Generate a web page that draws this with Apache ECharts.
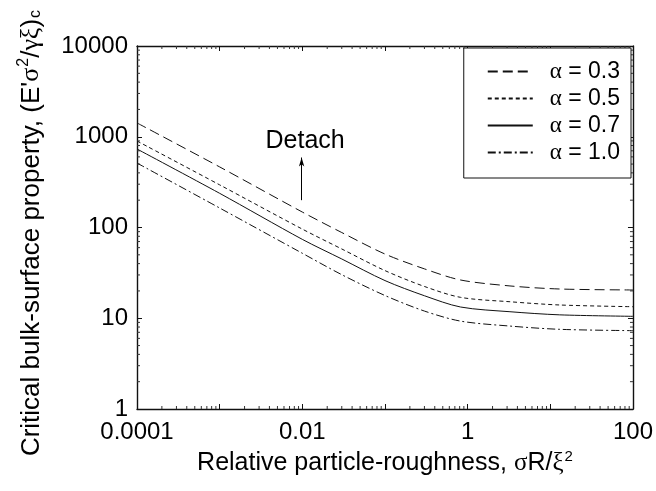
<!DOCTYPE html>
<html>
<head>
<meta charset="utf-8">
<script src="https://cdn.jsdelivr.net/npm/echarts@6/dist/echarts.min.js"></script>
<style>html,body{margin:0;padding:0;background:#fff}#c{width:656px;height:491px}</style>
</head>
<body>
<div id="c"></div>
<script>
// ---- data ----
const xValues = [0.0001, 0.001, 0.01, 0.03, 0.1, 0.3, 0.82, 3.25, 13, 100];
const seriesNames = ['α = 0.3', 'α = 0.5', 'α = 0.7', 'α = 1.0'];
const alpha03 = [1420, 465, 148, 88, 51, 35, 26.4, 22.7, 21.0, 20.5];
const alpha05 = [898, 295, 96, 58, 33.5, 22.4, 17.0, 15.2, 14.0, 13.4];
const alpha07 = [733, 238, 74, 45, 26, 17.7, 13.3, 11.8, 10.9, 10.5];
const alpha10 = [513, 164, 52, 30.2, 17.8, 12.0, 9.3, 8.2, 7.55, 7.3];
const xTickLabels = ['0.0001', '', '0.01', '', '1', '', '100'];
const yTickLabels = ['1', '10', '100', '1000', '10000'];
const detachArrow = [[0.0098, 200], [0.0098, 590]];
const detachText = [0.0108, 900];

const FONT = 'Liberation Sans, Arial, sans-serif';
const GREEK = 'Liberation Serif, Times New Roman, serif';
const FS = 24;

function pairs(ys) { return xValues.map((x, i) => [x, ys[i]]); }

// minor tick positions (2..9 in each decade)
const xMinor = [], yMinor = [];
for (let e = -4; e < 2; e++) for (let m = 2; m <= 9; m++) xMinor.push(+(m * Math.pow(10, e)).toPrecision(3));
for (let e = 0; e < 4; e++) for (let m = 2; m <= 9; m++) yMinor.push(+(m * Math.pow(10, e)).toPrecision(3));
const minorData = xMinor.map(v => [v, 1, 0]).concat(yMinor.map(v => [0.0001, v, 1]));

const lineBase = { type: 'line', symbol: 'none', smooth: 0.3, silent: true };
const styles = [
  { color: '#111', width: 1, type: [10, 5] },
  { color: '#111', width: 1, type: [4, 3] },
  { color: '#111', width: 1, type: 'solid' },
  { color: '#111', width: 1, type: [8, 3, 2, 3] }
];
const dataSets = [alpha03, alpha05, alpha07, alpha10];

const series = dataSets.map((d, i) => Object.assign({}, lineBase, {
  name: seriesNames[i],
  data: pairs(d),
  lineStyle: styles[i],
  itemStyle: { color: '#111' }
}));

series[0].markLine = {
  silent: true,
  symbol: ['none', 'arrow'],
  symbolSize: [4, 9],
  label: { show: false },
  lineStyle: { color: '#000', type: 'solid', width: 1 },
  data: [[{ coord: detachArrow[0] }, { coord: detachArrow[1] }]]
};
series[0].markPoint = {
  silent: true,
  symbol: 'circle',
  symbolSize: 1,
  itemStyle: { color: 'rgba(0,0,0,0)' },
  label: { show: true, position: 'inside', formatter: 'Detach', fontSize: 25, color: '#000', fontFamily: FONT },
  data: [{ coord: detachText }]
};

series.push({
  type: 'custom',
  silent: true,
  clip: false,
  data: minorData,
  renderItem: function (params, api) {
    const v = api.value(0), w = api.value(1), kind = api.value(2);
    const L = 3;
    const st = { stroke: '#333', lineWidth: 1 };
    if (kind === 0) {
      const b = api.coord([v, 1]), t = api.coord([v, 10000]);
      return { type: 'group', children: [
        { type: 'line', shape: { x1: b[0], y1: b[1], x2: b[0], y2: b[1] - L }, style: st },
        { type: 'line', shape: { x1: t[0], y1: t[1], x2: t[0], y2: t[1] + L }, style: st }
      ]};
    } else {
      const l = api.coord([0.0001, w]), r = api.coord([100, w]);
      return { type: 'group', children: [
        { type: 'line', shape: { x1: l[0], y1: l[1], x2: l[0] + L, y2: l[1] }, style: st },
        { type: 'line', shape: { x1: r[0], y1: r[1], x2: r[0] - L, y2: r[1] }, style: st }
      ]};
    }
  }
});

const axisLineStyle = { color: '#111', width: 1.4 };

const option = {
  backgroundColor: '#fff',
  animation: false,
  grid: { left: 137, right: 23, top: 46, bottom: 82 },
  legend: {
    data: seriesNames,
    orient: 'vertical',
    right: 25,
    top: 48,
    padding: [12, 11, 14, 23],
    itemGap: 4,
    itemWidth: 45,
    itemHeight: 14,
    borderColor: '#111',
    borderWidth: 1,
    backgroundColor: '#fff',
    selectedMode: false,
    itemStyle: { color: 'rgba(0,0,0,0)', borderWidth: 0, opacity: 0 },
    textStyle: {
      fontSize: 23, fontFamily: FONT, color: '#000', lineHeight: 23,
      rich: { g: { fontSize: 23, fontFamily: GREEK, color: '#000', padding: [0, 0, 0, 12], lineHeight: 23 } }
    },
    formatter: function (n) { return '{g|α}' + n.slice(1); }
  },
  xAxis: [{
    type: 'log', logBase: 10, min: 0.0001, max: 100, interval: 1,
    position: 'bottom',
    name: 'Relative particle-roughness, {g|σ}R/{g|ξ}{s|2}',
    nameLocation: 'middle', nameGap: 39,
    nameTextStyle: {
      fontSize: 25, fontFamily: FONT, color: '#000',
      rich: {
        g: { fontSize: 25, fontFamily: GREEK, color: '#000' },
        s: { fontSize: 15, fontFamily: FONT, color: '#000', padding: [0, 0, 14, 1] }
      }
    },
    axisLine: { show: true, lineStyle: axisLineStyle },
    axisTick: { show: true, inside: true, length: 5, lineStyle: { color: '#111' } },
    splitLine: { show: false },
    axisLabel: {
      fontSize: FS, fontFamily: FONT, color: '#000', margin: 11,
      formatter: function (v) { const e = Math.round(Math.log10(v)); return xTickLabels[e + 4] || ''; }
    }
  }, {
    type: 'log', logBase: 10, min: 0.0001, max: 100, interval: 1,
    position: 'top',
    axisLine: { show: true, lineStyle: axisLineStyle },
    axisTick: { show: true, inside: true, length: 5, lineStyle: { color: '#111' } },
    axisLabel: { show: false },
    splitLine: { show: false }
  }],
  yAxis: [{
    type: 'log', logBase: 10, min: 1, max: 10000, interval: 1,
    position: 'left',
    name: "Critical bulk-surface property, (E'{g|σ}{s|2}/{g|γξ}){b|c}",
    nameLocation: 'middle', nameGap: 90, nameRotate: 90,
    nameTextStyle: {
      fontSize: 26, fontFamily: FONT, color: '#000', padding: [0, 11, 0, 0],
      rich: {
        g: { fontSize: 26, fontFamily: GREEK, color: '#000' },
        s: { fontSize: 16, fontFamily: FONT, color: '#000', padding: [0, 0, 15, 1] },
        b: { fontSize: 16, fontFamily: FONT, color: '#000', padding: [0, 0, -8, 1] }
      }
    },
    axisLine: { show: true, lineStyle: axisLineStyle },
    axisTick: { show: true, inside: true, length: 5, lineStyle: { color: '#111' } },
    splitLine: { show: false },
    axisLabel: {
      fontSize: FS, fontFamily: FONT, color: '#000', margin: 9,
      formatter: function (v) { const e = Math.round(Math.log10(v)); return yTickLabels[e] || ''; }
    }
  }, {
    type: 'log', logBase: 10, min: 1, max: 10000, interval: 1,
    position: 'right',
    axisLine: { show: true, lineStyle: axisLineStyle },
    axisTick: { show: true, inside: true, length: 5, lineStyle: { color: '#111' } },
    axisLabel: { show: false },
    splitLine: { show: false }
  }],
  series: series
};

const chart = echarts.init(document.getElementById('c'), null, { renderer: 'canvas' });
chart.setOption(option);
</script>
</body>
</html>
